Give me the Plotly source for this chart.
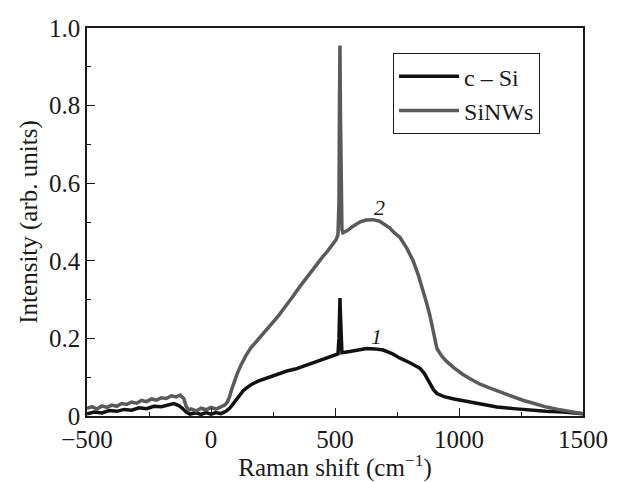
import plotly.graph_objects as go

# SiNWs (curve 2)
x_sinw = [-500, -480, -460, -440, -420, -400, -380, -360, -340, -320, -300, -280, -260, -240, -220,
          -200, -180, -160, -140, -125, -110, -100, -90, -80, -60, -40, -20, 0, 20, 40, 55, 65, 75,
          85, 95, 105, 120, 140, 160, 180, 200, 226, 250, 270, 290, 310, 330, 359, 380, 400, 427,
          450, 470, 492, 505, 512, 516, 518, 520, 522, 524, 528, 532, 550, 570, 600, 625, 653, 680,
          700, 720, 740, 762, 790, 815, 835, 855, 870, 883, 897, 911, 930, 951, 980, 1016, 1050,
          1085, 1120, 1150, 1190, 1219, 1260, 1300, 1353, 1400, 1450, 1500]
y_sinw = [0.020, 0.024, 0.018, 0.026, 0.022, 0.028, 0.025, 0.032, 0.030, 0.036, 0.033, 0.040, 0.037,
          0.044, 0.041, 0.047, 0.045, 0.052, 0.049, 0.054, 0.045, 0.025, 0.015, 0.018, 0.013, 0.020,
          0.016, 0.022, 0.018, 0.025, 0.028, 0.035, 0.050, 0.072, 0.092, 0.108, 0.130, 0.155, 0.175,
          0.190, 0.205, 0.224, 0.240, 0.257, 0.274, 0.290, 0.308, 0.334, 0.352, 0.368, 0.392, 0.410,
          0.425, 0.442, 0.455, 0.468, 0.550, 0.800, 0.955, 0.780, 0.550, 0.480, 0.472, 0.478, 0.488,
          0.500, 0.505, 0.506, 0.502, 0.494, 0.485, 0.472, 0.460, 0.432, 0.400, 0.365, 0.325, 0.290,
          0.258, 0.215, 0.174, 0.155, 0.140, 0.124, 0.107, 0.094, 0.082, 0.073, 0.066, 0.056, 0.049,
          0.040, 0.033, 0.023, 0.017, 0.012, 0.006]

# c-Si (curve 1)
x_csi = [-500, -470, -440, -410, -380, -350, -320, -290, -260, -230, -200, -170, -150, -130, -115,
         -100, -85, -60, -40, -20, 0, 20, 40, 60, 75, 90, 110, 130, 145, 165, 190, 226, 260, 306,
         340, 380, 411, 440, 470, 500, 512, 516, 518, 520, 522, 524, 528, 560, 600, 627, 660, 694,
         730, 762, 800, 843, 860, 872, 883, 897, 911, 940, 980, 1016, 1080, 1153, 1220, 1286, 1350,
         1420, 1500]
y_csi = [0.006, 0.010, 0.008, 0.014, 0.012, 0.017, 0.015, 0.021, 0.019, 0.025, 0.024, 0.030, 0.032,
         0.027, 0.020, 0.010, 0.005, 0.008, 0.004, 0.009, 0.005, 0.009, 0.006, 0.012, 0.020, 0.032,
         0.050, 0.065, 0.073, 0.082, 0.090, 0.098, 0.106, 0.116, 0.121, 0.130, 0.138, 0.143, 0.150,
         0.157, 0.160, 0.200, 0.270, 0.304, 0.260, 0.190, 0.163, 0.166, 0.170, 0.174, 0.173, 0.170,
         0.161, 0.149, 0.138, 0.123, 0.110, 0.095, 0.083, 0.068, 0.058, 0.050, 0.044, 0.040, 0.031,
         0.023, 0.019, 0.015, 0.012, 0.010, 0.006]

x_ticks = [-500, 0, 500, 1000, 1500]
x_tick_labels = ["\u2212500", "0", "500", "1000", "1500"]
y_ticks = [0, 0.2, 0.4, 0.6, 0.8, 1.0]
y_tick_labels = ["0", "0.2", "0.4", "0.6", "0.8", "1.0"]

FONT = "Liberation Serif, Times New Roman, serif"
INK = "#1a1a1a"

fig = go.Figure()
fig.add_trace(go.Scatter(x=x_csi, y=y_csi, mode="lines", name="c \u2013 Si",
                         line=dict(color="#111111", width=3.5)))
fig.add_trace(go.Scatter(x=x_sinw, y=y_sinw, mode="lines", name="SiNWs",
                         line=dict(color="#5a5a5a", width=3.5)))

fig.add_annotation(x=681, y=0.538, text="<i>2</i>", showarrow=False,
                   font=dict(family=FONT, size=22, color=INK))
fig.add_annotation(x=669, y=0.204, text="<i>1</i>", showarrow=False,
                   font=dict(family=FONT, size=22, color=INK))

# page body adds an 8px offset: figure is 615x474 placed at (8, 8)
fig.update_layout(
    width=615, height=474,
    margin=dict(l=79, r=40, t=20, b=66),
    paper_bgcolor="white", plot_bgcolor="white",
    font=dict(family=FONT, size=25, color=INK),
    showlegend=True,
    modebar=dict(bgcolor="rgba(0,0,0,0)", color="rgba(0,0,0,0)", activecolor="rgba(0,0,0,0)"),
    legend=dict(x=0.617, y=0.935, xanchor="left", yanchor="top",
                bordercolor=INK, borderwidth=1, bgcolor="white",
                font=dict(family=FONT, size=24, color=INK),
                tracegroupgap=0, itemwidth=60),
    xaxis=dict(range=[-500, 1500], tickvals=x_ticks, ticktext=x_tick_labels,
               ticks="inside", ticklen=8, tickwidth=1.2, tickcolor=INK,
               minor=dict(dtick=250, ticks="inside", ticklen=4, tickcolor=INK, tickwidth=1.2),
               showline=True, linecolor=INK, linewidth=1.5, mirror=True,
               showgrid=False, zeroline=False, automargin=False,
               title=dict(text="Raman shift (cm<sup>\u22121</sup>)", standoff=2,
                          font=dict(family=FONT, size=25))),
    yaxis=dict(range=[0, 1.0], tickvals=y_ticks, ticktext=y_tick_labels,
               ticks="inside", ticklen=8, tickwidth=1.2, tickcolor=INK,
               minor=dict(dtick=0.1, ticks="inside", ticklen=4, tickcolor=INK, tickwidth=1.2),
               showline=True, linecolor=INK, linewidth=1.5, mirror=True,
               showgrid=False, zeroline=False, automargin=False,
               title=dict(text="Intensity (arb. units)", standoff=4,
                          font=dict(family=FONT, size=25))),
)

fig.write_html("out.html")
